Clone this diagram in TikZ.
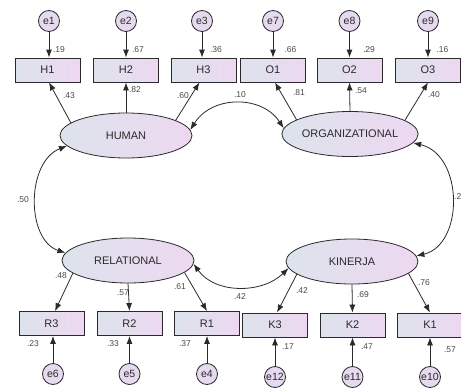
\documentclass[tikz,border=0pt]{standalone}
\usepackage{fontspec}
\setmainfont{Liberation Sans}
\usetikzlibrary{shapes.geometric,arrows.meta,calc}
\definecolor{lblue}{HTML}{DDE3EC}
\definecolor{lpink}{HTML}{EDD8F1}
\definecolor{errfill}{HTML}{E7DAF0}
\definecolor{ink}{HTML}{2A2A2A}
\definecolor{numgray}{HTML}{4A4A4A}
\tikzset{
  latent/.style={ellipse, draw=ink, line width=0.8pt, left color=lblue, right color=lpink,
    minimum width=132pt, minimum height=45pt, inner sep=0pt,
    font=\fontsize{11}{13}\selectfont, text=ink},
  obs/.style={rectangle, draw=ink, line width=0.8pt, left color=lblue, right color=lpink,
    minimum width=65pt, minimum height=24pt, inner sep=0pt,
    font=\fontsize{11}{13}\selectfont, text=ink},
  err/.style={circle, draw=ink, line width=0.8pt, fill=errfill, minimum size=21pt,
    inner sep=0pt, font=\fontsize{10.5}{12}\selectfont, text=ink},
  arr/.style={-{Latex[length=8pt,width=6pt]}, line width=0.8pt, draw=ink},
  cov/.style={{Latex[length=8pt,width=6pt]}-{Latex[length=8pt,width=6pt]}, line width=0.8pt, draw=ink},
  coef/.style={font=\fontsize{8.5}{10}\selectfont, text=numgray, inner sep=0pt}
}
\begin{document}
\begin{tikzpicture}[x=1pt,y=-1pt]
\fill[white] (0,0) rectangle (461,388);
\useasboundingbox (0,0) rectangle (461,388);

% latent variables
\node[latent] (hum) at (126,135.5) {HUMAN};
\node[latent] (org) at (350,134) {ORGANIZATIONAL};
\node[latent] (rel) at (128,260.5) {RELATIONAL};
\node[latent] (kin) at (352,261.5) {KINERJA};

% indicators
\node[obs] (h1) at (47.5,70) {H1};
\node[obs] (h2) at (126,70) {H2};
\node[obs] (h3) at (203.5,70) {H3};
\node[obs] (o1) at (273,70) {O1};
\node[obs] (o2) at (349.5,70) {O2};
\node[obs] (o3) at (428,70) {O3};
\node[obs] (r3) at (51.5,323.5) {R3};
\node[obs] (r2) at (129.5,323.5) {R2};
\node[obs] (r1) at (207,323.5) {R1};
\node[obs] (k3) at (275,325) {K3};
\node[obs] (k2) at (352.5,325) {K2};
\node[obs] (k1) at (430,325) {K1};

% error terms
\node[err] (e1) at (49,21) {e1};
\node[err] (e2) at (126,21) {e2};
\node[err] (e3) at (202,21) {e3};
\node[err] (e7) at (273,21) {e7};
\node[err] (e8) at (349.5,21) {e8};
\node[err] (e9) at (428,21) {e9};
\node[err] (e6) at (53,374) {e6};
\node[err] (e5) at (129.5,374) {e5};
\node[err] (e4) at (207,374) {e4};
\node[err] (e12) at (275,377) {e12};
\node[err] (e11) at (352.5,377) {e11};
\node[err] (e10) at (430,377) {e10};

% error paths
\foreach \e/\b in {e1/h1,e2/h2,e3/h3,e7/o1,e8/o2,e9/o3}
  \draw[arr] (\e) -- (\e |- \b.north);
\foreach \e/\b in {e6/r3,e5/r2,e4/r1,e12/k3,e11/k2,e10/k1}
  \draw[arr] (\e) -- (\e |- \b.south);

% loadings
\draw[arr] (hum.167) -- ($(h1.south)+(1.5,0)$);
\draw[arr] (hum.north) -- (h2.south);
\draw[arr] (hum.17) -- ($(h3.south)+(-4,0)$);
\draw[arr] (org.165) -- ($(o1.south)+(2,0)$);
\draw[arr] (org.north) -- (o2.south);
\draw[arr] (org.14) -- (o3.south);
\draw[arr] (rel.193) -- ($(r3.north)+(3.5,0)$);
\draw[arr] (rel.south) -- (r2.north);
\draw[arr] (rel.-12) -- (r1.north);
\draw[arr] (kin.193) -- ($(k3.north)+(2,0)$);
\draw[arr] (kin.south) -- (k2.north);
\draw[arr] (kin.-12) -- (k1.north);

% covariances
\draw[cov] (hum.5) .. controls (212,95) and (262,95) .. (org.175);
\draw[cov] (hum.190) .. controls (26,162) and (26,240) .. (rel.173);
\draw[cov] (org.-8) .. controls (464,155) and (464,245) .. (kin.5);
\draw[cov] (rel.-3) .. controls (215,294) and (262,294) .. (kin.186);

% coefficients
\node[coef] at (59,50) {.19};
\node[coef] at (138,50) {.67};
\node[coef] at (216,50) {.36};
\node[coef] at (290.5,50) {.66};
\node[coef] at (369,50) {.29};
\node[coef] at (442.5,50) {.16};
\node[coef] at (69,96) {.43};
\node[coef] at (135,90) {.82};
\node[coef] at (183,96) {.60};
\node[coef] at (299,93) {.81};
\node[coef] at (361,91) {.54};
\node[coef] at (434,95) {.40};
\node[coef] at (61,276) {.48};
\node[coef] at (123,293) {.57};
\node[coef] at (180,287) {.61};
\node[coef] at (33,344) {.23};
\node[coef] at (113,344) {.33};
\node[coef] at (185,344) {.37};
\node[coef] at (302,291) {.42};
\node[coef] at (363,295) {.69};
\node[coef] at (424,283) {.76};
\node[coef] at (288,347) {.17};
\node[coef] at (367,347) {.47};
\node[coef] at (450,350) {.57};
\node[coef] at (240,95) {.10};
\node[coef] at (23,200) {.50};
\node[coef] at (240,297) {.42};
\node[coef, anchor=west] at (454,197) {.2};
\end{tikzpicture}
\end{document}
